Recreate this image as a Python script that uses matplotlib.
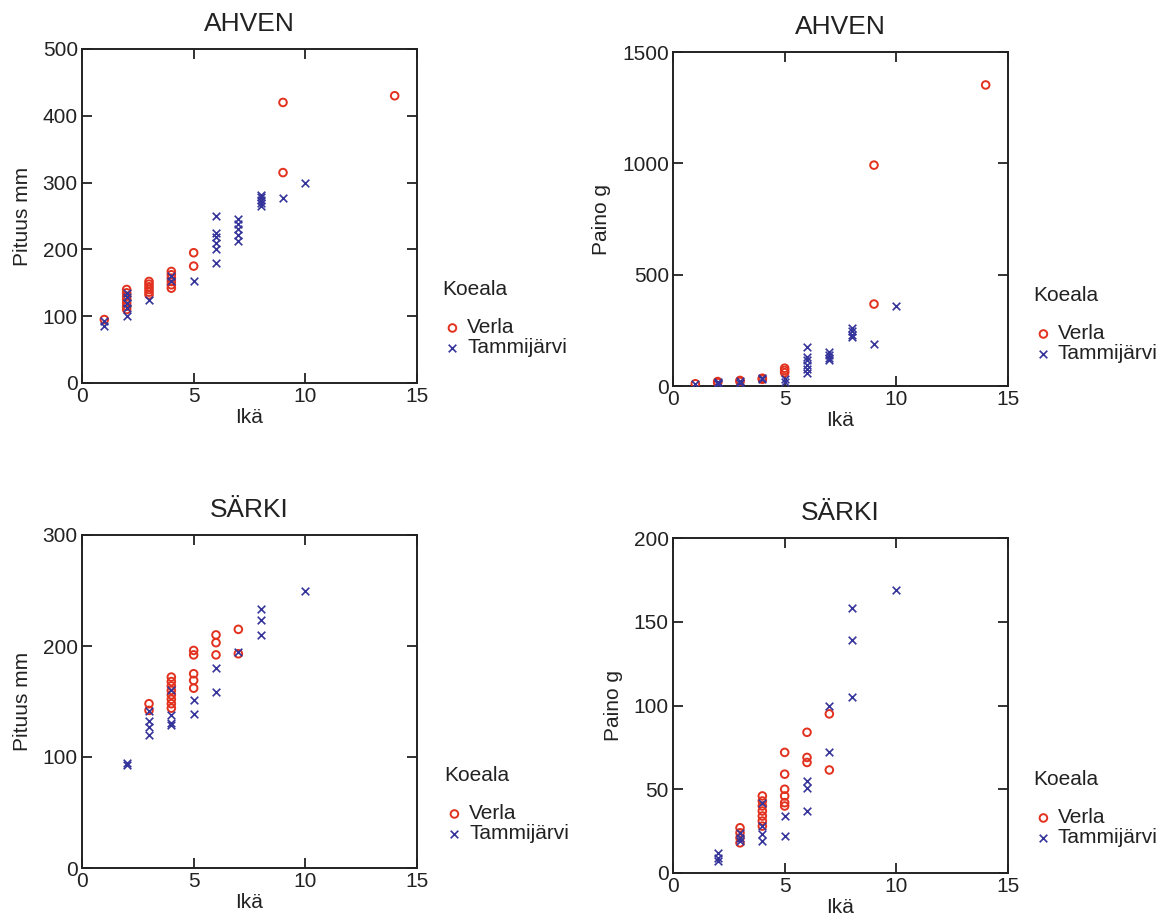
import matplotlib
matplotlib.use("Agg")
import matplotlib.pyplot as plt

plt.rcParams['font.family'] = ['Liberation Sans', 'DejaVu Sans']

# ---- AHVEN length (Pituus mm) ----
ahven_len_verla_age = [1, 2, 2, 2, 2, 2, 2, 2, 3, 3, 3, 3, 3, 3, 4, 4, 4, 4, 4, 4, 5, 5, 9, 9, 14]
ahven_len_verla_val = [95, 140, 135, 130, 125, 120, 115, 110, 152, 148, 144, 140, 136, 132,
                       167, 162, 157, 152, 147, 142, 195, 175, 420, 315, 430]
ahven_len_tammi_age = [1, 1, 2, 2, 2, 2, 2, 3, 4, 4, 5, 6, 6, 6, 6, 6, 6, 7, 7, 7, 7, 7,
                       8, 8, 8, 8, 8, 9, 10]
ahven_len_tammi_val = [93, 85, 135, 128, 120, 112, 100, 125, 160, 152, 152, 250, 225, 218, 210, 200, 180,
                       245, 238, 230, 222, 213, 282, 278, 274, 270, 265, 277, 300]

# ---- AHVEN weight (Paino g) ----
ahven_w_verla_age = [1, 2, 2, 3, 3, 4, 4, 5, 5, 5, 9, 9, 14]
ahven_w_verla_val = [10, 20, 15, 25, 20, 35, 30, 80, 70, 60, 992, 368, 1352]
ahven_w_tammi_age = [1, 2, 2, 2, 3, 3, 4, 4, 5, 5, 6, 6, 6, 6, 6, 6, 7, 7, 7, 7, 8, 8, 8, 8, 9, 10]
ahven_w_tammi_val = [8, 20, 15, 10, 22, 15, 35, 30, 30, 20, 176, 131, 115, 95, 75, 58,
                     154, 140, 125, 117, 260, 245, 230, 221, 189, 359]

# ---- SÄRKI length (Pituus mm) ----
sarki_len_verla_age = [3, 3, 4, 4, 4, 4, 4, 4, 4, 4, 5, 5, 5, 5, 5, 6, 6, 6, 7, 7]
sarki_len_verla_val = [148, 142, 172, 168, 164, 160, 156, 152, 148, 144,
                       196, 192, 175, 169, 162, 210, 203, 192, 215, 193]
sarki_len_tammi_age = [2, 2, 3, 3, 3, 3, 4, 4, 4, 4, 5, 5, 6, 6, 7, 8, 8, 8, 10]
sarki_len_tammi_val = [93, 95, 141, 132, 127, 120, 160, 138, 129, 131, 151, 139, 180, 159,
                       195, 233, 223, 210, 250]

# ---- SÄRKI weight (Paino g) ----
sarki_w_verla_age = [3, 3, 3, 3, 4, 4, 4, 4, 4, 4, 4, 5, 5, 5, 5, 5, 5, 6, 6, 6, 7, 7]
sarki_w_verla_val = [27, 24, 21, 18, 46, 43, 40, 37, 34, 31, 28, 72, 59, 50, 46, 42, 40,
                     84, 69, 66, 95, 61.5]
sarki_w_tammi_age = [2, 2, 2, 3, 3, 3, 4, 4, 4, 4, 5, 5, 6, 6, 6, 7, 7, 8, 8, 8, 10]
sarki_w_tammi_val = [12, 9, 7, 24, 21, 19, 42, 28, 23, 19, 34, 22, 55, 51, 37, 100, 72,
                     158, 139, 105, 169]

series_labels = ['Verla', 'Tammijärvi']
legend_title = 'Koeala'
x_label = 'Ikä'

RED = '#e2321f'
BLUE = '#34349a'
INK = '#222222'

W, H = 1168, 923
fig = plt.figure(figsize=(W / 100, H / 100), dpi=100)


def px_axes(l, t, r, b):
    return fig.add_axes([l / W, 1 - b / H, (r - l) / W, (b - t) / H])


panels = [
    dict(box=(82, 49, 417, 383), title='AHVEN', ylabel='Pituus mm', ylim=(0, 500),
         yticks=[0, 100, 200, 300, 400, 500],
         data=(ahven_len_verla_age, ahven_len_verla_val, ahven_len_tammi_age, ahven_len_tammi_val),
         leg=(442, 280)),
    dict(box=(673, 52, 1008, 386), title='AHVEN', ylabel='Paino g', ylim=(0, 1500),
         yticks=[0, 500, 1000, 1500],
         data=(ahven_w_verla_age, ahven_w_verla_val, ahven_w_tammi_age, ahven_w_tammi_val),
         leg=(1033, 286)),
    dict(box=(82, 535, 417, 868), title='SÄRKI', ylabel='Pituus mm', ylim=(0, 300),
         yticks=[0, 100, 200, 300],
         data=(sarki_len_verla_age, sarki_len_verla_val, sarki_len_tammi_age, sarki_len_tammi_val),
         leg=(444, 766)),
    dict(box=(673, 538, 1008, 873), title='SÄRKI', ylabel='Paino g', ylim=(0, 200),
         yticks=[0, 50, 100, 150, 200],
         data=(sarki_w_verla_age, sarki_w_verla_val, sarki_w_tammi_age, sarki_w_tammi_val),
         leg=(1033, 770)),
]

for p in panels:
    ax = px_axes(*p['box'])
    va, vv, ta, tv = p['data']
    h1 = ax.scatter(va, vv, s=30, marker='o', facecolors='none', edgecolors=RED,
                    linewidths=1.4, label=series_labels[0], zorder=3)
    h2 = ax.scatter(ta, tv, s=30, marker='x', color=BLUE, linewidths=1.2,
                    label=series_labels[1], zorder=4)
    ax.set_xlim(0, 15)
    ax.set_ylim(*p['ylim'])
    ax.set_xticks([0, 5, 10, 15])
    ax.set_yticks(p['yticks'])
    ax.tick_params(direction='in', top=True, right=True, length=7, width=1.3,
                   labelsize=15, pad=3, colors=INK)
    for s in ax.spines.values():
        s.set_linewidth(1.4)
        s.set_color(INK)
    ax.set_title(p['title'], fontsize=19, pad=13, color=INK)
    ax.set_xlabel(x_label, fontsize=15, labelpad=1, color=INK)
    ax.set_ylabel(p['ylabel'], fontsize=15, labelpad=8, color=INK)
    lx, ly = p['leg']
    leg = ax.legend(handles=[h1, h2], title=legend_title, loc='upper left',
                    bbox_to_anchor=(lx / W, 1 - ly / H), bbox_transform=fig.transFigure,
                    frameon=False, fontsize=15, title_fontsize=15, handletextpad=0.2,
                    handlelength=1.0, labelspacing=0.05, borderpad=0, borderaxespad=0,
                    alignment='left', markerscale=1.0)
    leg.get_title().set_color(INK)
    for t in leg.get_texts():
        t.set_color(INK)
    leg._legend_box.sep = 14

fig.savefig('out.png', dpi=100)
